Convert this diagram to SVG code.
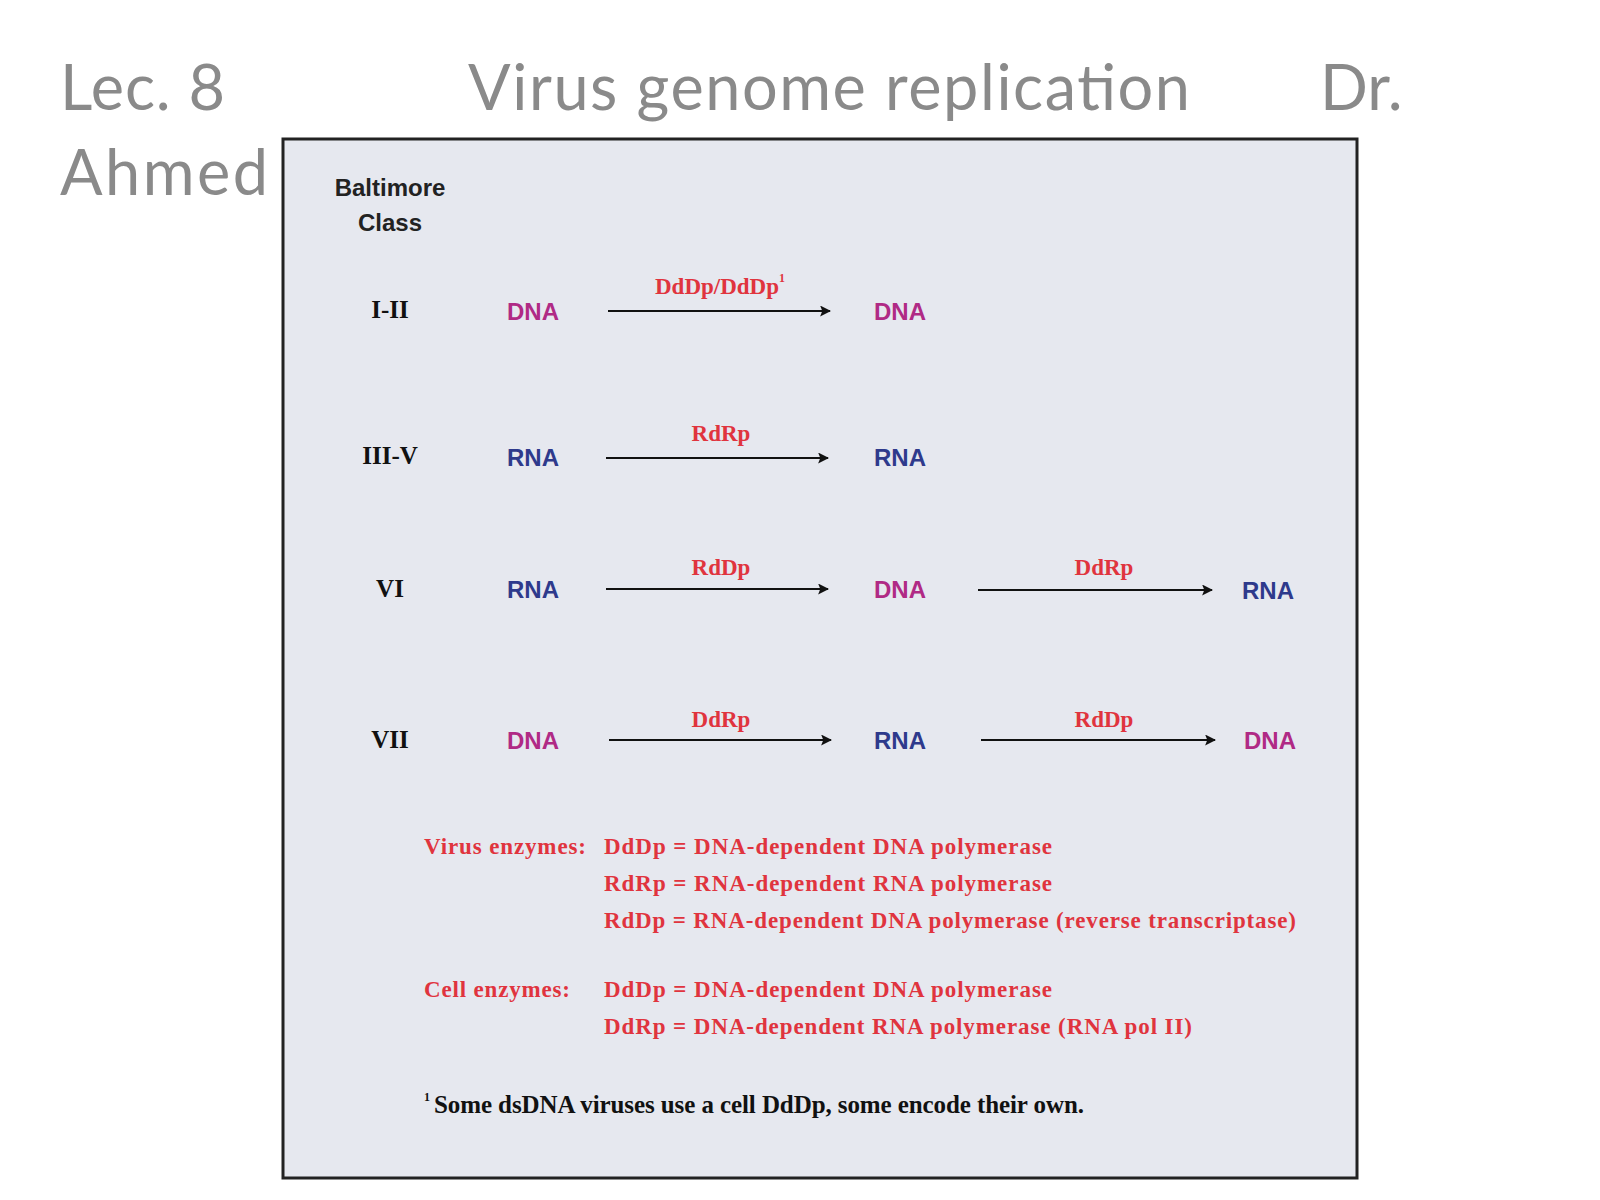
<svg xmlns="http://www.w3.org/2000/svg" width="1600" height="1200" viewBox="0 0 1600 1200">
<defs>
<marker id="ah" viewBox="0 0 10 10" refX="9" refY="5" markerWidth="11" markerHeight="11" markerUnits="userSpaceOnUse" orient="auto"><path d="M0,0 L10,5 L0,10 L2,5 z" fill="#111"/></marker>
<style>
.t{font-family:Lato,"Open Sans",sans-serif;fill:#8a8a8a;font-size:63px}
.s{font-family:"Liberation Sans",Arial,sans-serif;font-weight:bold;font-size:24px}
.dna{fill:#b02a85}.rna{fill:#2e3a8c}
.c{font-family:"Liberation Serif","Times New Roman",serif;font-weight:bold;font-size:25px;fill:#111}
.e{font-family:"Liberation Serif","Times New Roman",serif;font-weight:bold;font-size:23px;fill:#e0343e}
.l{stroke:#111;stroke-width:2;fill:none;marker-end:url(#ah)}
</style>
</defs>
<rect width="1600" height="1200" fill="#fff"/>
<text class="t" x="60" y="110" textLength="165">Lec. 8</text>
<text class="t" x="468" y="110" textLength="722">Virus genome replication</text>
<text class="t" x="1320" y="110">Dr.</text>
<text class="t" x="60" y="195" textLength="208">Ahmed</text>
<rect x="283" y="139" width="1074" height="1039" fill="#e6e8ef" stroke="#222" stroke-width="3"/>
<g id="header"><text class="s" x="390" y="196" text-anchor="middle" fill="#222">Baltimore</text><text class="s" x="390" y="231" text-anchor="middle" fill="#222">Class</text></g>
<g id="classes">
<text class="c" x="390" y="318" text-anchor="middle">I-II</text>
<text class="c" x="390" y="464" text-anchor="middle">III-V</text>
<text class="c" x="390" y="597" text-anchor="middle">VI</text>
<text class="c" x="390" y="748" text-anchor="middle">VII</text>
</g>
<g id="nodes">
<text class="s dna" x="533" y="320" text-anchor="middle">DNA</text>
<text class="s dna" x="900" y="320" text-anchor="middle">DNA</text>
<text class="s rna" x="533" y="466" text-anchor="middle">RNA</text>
<text class="s rna" x="900" y="466" text-anchor="middle">RNA</text>
<text class="s rna" x="533" y="598" text-anchor="middle">RNA</text>
<text class="s dna" x="900" y="598" text-anchor="middle">DNA</text>
<text class="s rna" x="1268" y="599" text-anchor="middle">RNA</text>
<text class="s dna" x="533" y="749" text-anchor="middle">DNA</text>
<text class="s rna" x="900" y="749" text-anchor="middle">RNA</text>
<text class="s dna" x="1270" y="749" text-anchor="middle">DNA</text>
</g>
<g id="connectors">
<line class="l" x1="608" y1="311" x2="830" y2="311"/>
<line class="l" x1="606" y1="458" x2="828" y2="458"/>
<line class="l" x1="606" y1="589" x2="828" y2="589"/>
<line class="l" x1="978" y1="590" x2="1212" y2="590"/>
<line class="l" x1="609" y1="740" x2="831" y2="740"/>
<line class="l" x1="981" y1="740" x2="1215" y2="740"/>
<text class="e" x="720" y="294" text-anchor="middle">DdDp/DdDp<tspan font-size="12" dy="-12">1</tspan></text>
<text class="e" x="721" y="441" text-anchor="middle">RdRp</text>
<text class="e" x="721" y="575" text-anchor="middle">RdDp</text>
<text class="e" x="1104" y="575" text-anchor="middle">DdRp</text>
<text class="e" x="721" y="727" text-anchor="middle">DdRp</text>
<text class="e" x="1104" y="727" text-anchor="middle">RdDp</text>
</g>
<g id="legend">
<text class="e" x="424" y="854" textLength="162">Virus enzymes:</text>
<text class="e" x="604" y="854" textLength="448">DdDp = DNA-dependent DNA polymerase</text>
<text class="e" x="604" y="891" textLength="448">RdRp = RNA-dependent RNA polymerase</text>
<text class="e" x="604" y="928" textLength="692">RdDp = RNA-dependent DNA polymerase (reverse transcriptase)</text>
<text class="e" x="424" y="997" textLength="146">Cell enzymes:</text>
<text class="e" x="604" y="997" textLength="448">DdDp = DNA-dependent DNA polymerase</text>
<text class="e" x="604" y="1034" textLength="588">DdRp = DNA-dependent RNA polymerase (RNA pol II)</text>
<text class="c" x="424" y="1113" font-size="22"><tspan font-size="12" dy="-12">1</tspan><tspan dy="12" dx="4" textLength="650">Some dsDNA viruses use a cell DdDp, some encode their own.</tspan></text>
</g>
</svg>
